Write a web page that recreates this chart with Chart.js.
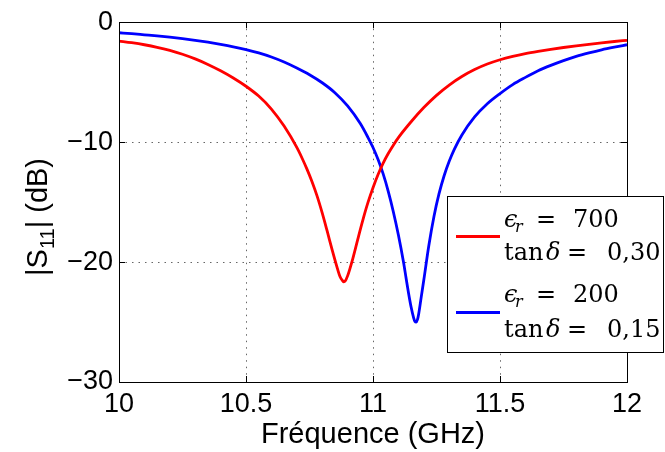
<!DOCTYPE html>
<html>
<head>
<meta charset="utf-8">
<script src="https://cdn.jsdelivr.net/npm/chart.js@4/dist/chart.umd.min.js"></script>
<style>
  html, body { margin: 0; padding: 0; background: #fff; }
  #wrap { width: 665px; height: 452px; position: relative; }
</style>
</head>
<body>
<div id="wrap"><canvas id="c" width="665" height="452"></canvas></div>
<script>
// ---- Data ----
const freqRed = [10.00,10.05,10.10,10.15,10.20,10.25,10.30,10.35,10.40,10.45,10.50,10.55,10.60,10.65,10.70,10.72,10.74,10.76,10.78,10.80,10.82,10.84,10.86,10.87,10.88,10.885,10.89,10.90,10.92,10.94,10.96,10.98,11.00,11.02,11.04,11.06,11.08,11.10,11.15,11.20,11.25,11.30,11.35,11.40,11.45,11.50,11.55,11.60,11.65,11.70,11.75,11.80,11.85,11.90,11.95,12.00];
const s11Red = [-1.57,-1.71,-1.88,-2.09,-2.35,-2.67,-3.06,-3.52,-4.05,-4.65,-5.34,-6.16,-7.24,-8.66,-10.44,-11.3,-12.25,-13.3,-14.5,-15.9,-17.45,-19.05,-20.55,-21.2,-21.55,-21.65,-21.6,-21.15,-19.75,-18.1,-16.5,-15.05,-13.8,-12.7,-11.75,-10.95,-10.25,-9.62,-8.3,-7.12,-6.1,-5.24,-4.53,-3.95,-3.49,-3.13,-2.85,-2.62,-2.43,-2.26,-2.11,-1.97,-1.84,-1.72,-1.61,-1.51];

const freqBlue = [10.00,10.05,10.10,10.15,10.20,10.25,10.30,10.35,10.40,10.45,10.50,10.55,10.60,10.65,10.70,10.75,10.80,10.85,10.90,10.95,10.98,11.00,11.02,11.04,11.06,11.08,11.10,11.12,11.13,11.14,11.15,11.16,11.165,11.17,11.175,11.18,11.19,11.20,11.22,11.24,11.26,11.28,11.30,11.32,11.35,11.40,11.45,11.50,11.55,11.60,11.65,11.70,11.75,11.80,11.85,11.90,11.95,12.00];
const s11Blue = [-0.88,-0.96,-1.05,-1.14,-1.25,-1.37,-1.51,-1.67,-1.85,-2.05,-2.28,-2.56,-2.9,-3.32,-3.82,-4.38,-5.05,-5.88,-6.98,-8.45,-9.6,-10.45,-11.45,-12.65,-14.1,-15.8,-17.75,-20.0,-21.3,-22.6,-23.75,-24.65,-24.95,-25.0,-24.8,-24.3,-22.9,-21.5,-18.6,-16.2,-14.3,-12.8,-11.6,-10.6,-9.4,-7.9,-6.8,-5.95,-5.2,-4.6,-4.05,-3.6,-3.2,-2.85,-2.56,-2.3,-2.08,-1.88];

const xTicks = [10, 10.5, 11, 11.5, 12];
const yTicks = [0, -10, -20, -30];
const xTitle = 'Fréquence (GHz)';
const legendRed = { eps: '700', tan: '0,30' };
const legendBlue = { eps: '200', tan: '0,15' };

// ---- Build datasets ----
const toPts = (xs, ys) => xs.map((x, i) => ({ x: x, y: ys[i] }));

const SANS = '"Liberation Sans", Arial, Helvetica, sans-serif';
const SERIF = '"DejaVu Serif", serif';

const frame = {
  id: 'frame',
  afterDraw(chart) {
    const ctx = chart.ctx;
    const a = chart.chartArea;
    const xs = chart.scales.x, ys = chart.scales.y;
    ctx.save();
    // box
    ctx.strokeStyle = '#000';
    ctx.lineWidth = 1;
    ctx.setLineDash([]);
    ctx.strokeRect(Math.round(a.left) + 0.5, Math.round(a.top) + 0.5,
                   Math.round(a.right - a.left), Math.round(a.bottom - a.top));
    // inward ticks
    const tl = 6;
    ctx.beginPath();
    xTicks.forEach(v => {
      const px = Math.round(xs.getPixelForValue(v)) + 0.5;
      ctx.moveTo(px, a.bottom); ctx.lineTo(px, a.bottom - tl);
      ctx.moveTo(px, a.top); ctx.lineTo(px, a.top + tl);
    });
    yTicks.forEach(v => {
      const py = Math.round(ys.getPixelForValue(v)) + 0.5;
      ctx.moveTo(a.left, py); ctx.lineTo(a.left + tl, py);
      ctx.moveTo(a.right, py); ctx.lineTo(a.right - tl, py);
    });
    ctx.stroke();

    // y title |S11| (dB)
    ctx.save();
    ctx.translate(47, 276);
    ctx.rotate(-Math.PI / 2);
    ctx.fillStyle = '#000';
    ctx.textBaseline = 'alphabetic';
    ctx.textAlign = 'left';
    let xpos = 0;
    ctx.font = '29px ' + SANS;
    ctx.fillText('|S', xpos, 0);
    xpos += ctx.measureText('|S').width;
    ctx.font = '20px ' + SANS;
    ctx.fillText('11', xpos, 7);
    xpos += ctx.measureText('11').width;
    ctx.font = '29px ' + SANS;
    ctx.fillText('| (dB)', xpos, 0);
    ctx.restore();

    // legend box
    const bx = 447.5, by = 196.5, bw = 216, bh = 156;
    ctx.fillStyle = '#fff';
    ctx.fillRect(bx, by, bw, bh);
    ctx.strokeStyle = '#000';
    ctx.lineWidth = 1;
    ctx.strokeRect(bx, by, bw, bh);

    const drawEntry = (color, lineY, base1, base2, e) => {
      ctx.strokeStyle = color;
      ctx.lineWidth = 2.8;
      ctx.beginPath();
      ctx.moveTo(456, lineY); ctx.lineTo(500, lineY);
      ctx.stroke();
      ctx.fillStyle = '#000';
      ctx.textAlign = 'left';
      ctx.textBaseline = 'alphabetic';
      ctx.font = 'italic 24px ' + SERIF;
      ctx.fillText('\u03F5', 504, base1);
      ctx.font = 'italic 16px ' + SERIF;
      ctx.fillText('r', 515, base1 + 5);
      ctx.font = '24px ' + SERIF;
      ctx.fillText('=', 536, base1);
      ctx.fillText(e.eps, 573, base1);
      ctx.fillText('tan', 504, base2);
      ctx.font = 'italic 24px ' + SERIF;
      ctx.fillText('\u03B4', 546, base2);
      ctx.font = '24px ' + SERIF;
      ctx.fillText('=', 567, base2);
      ctx.fillText(e.tan, 607, base2);
    };
    drawEntry('#ff0000', 236.5, 227, 260, legendRed);
    drawEntry('#0000ff', 312.5, 302, 337, legendBlue);
    ctx.restore();
  }
};

new Chart(document.getElementById('c'), {
  type: 'line',
  data: {
    datasets: [
      { label: 'red', data: toPts(freqRed, s11Red), borderColor: '#ff0000', borderWidth: 2.8,
        pointRadius: 0, fill: false, cubicInterpolationMode: 'monotone' },
      { label: 'blue', data: toPts(freqBlue, s11Blue), borderColor: '#0000ff', borderWidth: 2.8,
        pointRadius: 0, fill: false, cubicInterpolationMode: 'monotone' }
    ]
  },
  options: {
    responsive: false,
    animation: false,
    events: [],
    layout: { autoPadding: false, padding: { left: 0, right: 38, top: 18, bottom: 0 } },
    plugins: { legend: { display: false }, tooltip: { enabled: false }, title: { display: false } },
    scales: {
      x: {
        type: 'linear', min: 10, max: 12,
        afterBuildTicks: s => { s.ticks = xTicks.map(v => ({ value: v })); },
        afterFit: s => { s.height = 70; },
        border: { display: false, dash: [1.5, 5] },
        grid: { drawTicks: false, color: '#666', lineWidth: 1 },
        ticks: { color: '#000', font: { family: SANS, size: 27 }, padding: 6, maxRotation: 0,
                 callback: v => String(v) },
        title: { display: true, text: xTitle, color: '#000', font: { family: SANS, size: 29 }, padding: { top: -4, bottom: 0 } }
      },
      y: {
        type: 'linear', min: -30, max: 0,
        afterBuildTicks: s => { s.ticks = yTicks.map(v => ({ value: v })); },
        afterFit: s => { s.width = 119; },
        border: { display: false, dash: [1.5, 5] },
        grid: { drawTicks: false, color: '#666', lineWidth: 1 },
        ticks: { color: '#000', font: { family: SANS, size: 27 }, padding: 6,
                 callback: v => (v < 0 ? '\u2212' + Math.abs(v) : String(v)) }
      }
    }
  },
  plugins: [frame]
});
</script>
</body>
</html>
